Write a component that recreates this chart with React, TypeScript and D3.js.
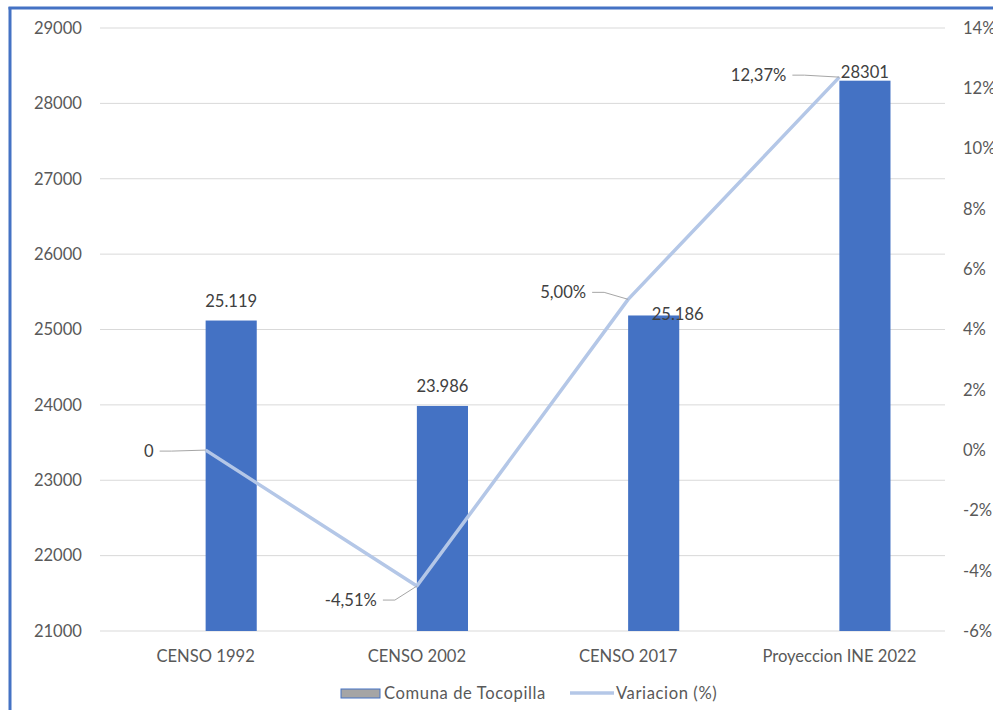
import * as d3 from "d3";

const categories = ["CENSO 1992", "CENSO 2002", "CENSO 2017", "Proyeccion INE 2022"];
const population = [25119, 23986, 25186, 28301];
const populationLabels = ["25.119", "23.986", "25.186", "28301"];
const variation = [0, -4.51, 5.0, 12.37];
const variationLabels = ["0", "-4,51%", "5,00%", "12,37%"];
const leftTicks = [21000, 22000, 23000, 24000, 25000, 26000, 27000, 28000, 29000];
const rightTicks = [-6, -4, -2, 0, 2, 4, 6, 8, 10, 12, 14];

// label placement tweaks (Excel moved some labels by hand)
const barLabelShift = [[0, 0], [0, 0], [24, 19], [0, 11]];
const lineLabelPos = [[-52, 1], [-40, 14], [-42, -7], [-53, -2]];

const W = 993;
const H = 710;
const FONT = "Lato, 'Open Sans', sans-serif";
const FS = 16.6;
const TEXT = "#595959";
const BAR = "#4472C4";
const LINE = "#B4C7E7";

export default function App() {
  const left = 100;
  const right = 945;
  const top = 28;
  const bottom = 631;

  const x = d3.scaleBand<string>().domain(categories).range([left, right]);
  const y = d3.scaleLinear().domain([21000, 29000]).range([bottom, top]);
  const y2 = d3.scaleLinear().domain([-6, 14]).range([bottom, top]);
  const barW = x.bandwidth() * 0.242;
  const cx = (c: string) => (x(c) ?? 0) + x.bandwidth() / 2;

  const line = d3
    .line<number>()
    .x((_, i) => cx(categories[i]))
    .y((d) => y2(d));

  return (
    <svg width={W} height={H} style={{ position: "absolute", left: 0, top: 0, background: "#fff" }} fontFamily={FONT}>
      <rect x={0} y={0} width={W} height={H} fill="#fff" />
      {/* frame */}
      <line x1={10} x2={10} y1={7} y2={H} stroke={BAR} strokeWidth={3} />
      <line x1={8.5} x2={W} y1={8} y2={8} stroke={BAR} strokeWidth={3} />

      {/* gridlines */}
      {leftTicks.map((t) => (
        <line key={t} x1={left} x2={right} y1={y(t)} y2={y(t)} stroke="#D9D9D9" strokeWidth={1} />
      ))}
      {leftTicks.map((t) => (
        <text key={"l" + t} x={82} y={y(t)} dy="0.35em" textAnchor="end" fontSize={FS} fill={TEXT}>
          {t}
        </text>
      ))}
      {rightTicks.map((t) => (
        <text key={"r" + t} x={963} y={y2(t)} dy="0.35em" textAnchor="start" fontSize={FS} fill={TEXT}>
          {t + "%"}
        </text>
      ))}

      {/* bars */}
      {categories.map((c, i) => (
        <rect key={c} x={cx(c)} y={y(population[i])} width={barW} height={bottom - y(population[i])} fill={BAR} />
      ))}
      {categories.map((c, i) => (
        <text
          key={"bl" + c}
          x={cx(c) + barW / 2 + barLabelShift[i][0]}
          y={y(population[i]) - 14 + barLabelShift[i][1]}
          textAnchor="middle"
          fontSize={FS}
          fill="#404040"
        >
          {populationLabels[i]}
        </text>
      ))}

      {/* category axis */}
      {categories.map((c) => (
        <text key={"c" + c} x={cx(c)} y={656} dy="0.35em" textAnchor="middle" fontSize={FS} fill={TEXT}>
          {c}
        </text>
      ))}

      {/* variation line */}
      <path d={line(variation) ?? ""} fill="none" stroke={LINE} strokeWidth={3.5} strokeLinejoin="round" />
      {categories.map((c, i) => {
        const px = cx(c);
        const py = y2(variation[i]);
        const lx = px + lineLabelPos[i][0];
        const ly = py + lineLabelPos[i][1];
        return (
          <g key={"v" + c}>
            <polyline
              points={`${lx + 6},${ly} ${lx + 18},${ly} ${px},${py}`}
              fill="none"
              stroke="#A6A6A6"
              strokeWidth={1}
            />
            <text x={lx} y={ly} dy="0.35em" textAnchor="end" fontSize={FS} fill="#404040">
              {variationLabels[i]}
            </text>
          </g>
        );
      })}

      {/* legend */}
      <rect x={341} y={689} width={39} height={9} fill="#A5A5A5" stroke={BAR} strokeWidth={1} />
      <text x={384} y={693} dy="0.35em" fontSize={FS} letterSpacing={0.6} fill={TEXT}>
        Comuna de Tocopilla
      </text>
      <line x1={570} x2={614} y1={693} y2={693} stroke={LINE} strokeWidth={3.5} />
      <text x={616} y={693} dy="0.35em" fontSize={FS} letterSpacing={0.6} fill={TEXT}>
        Variacion (%)
      </text>
    </svg>
  );
}
